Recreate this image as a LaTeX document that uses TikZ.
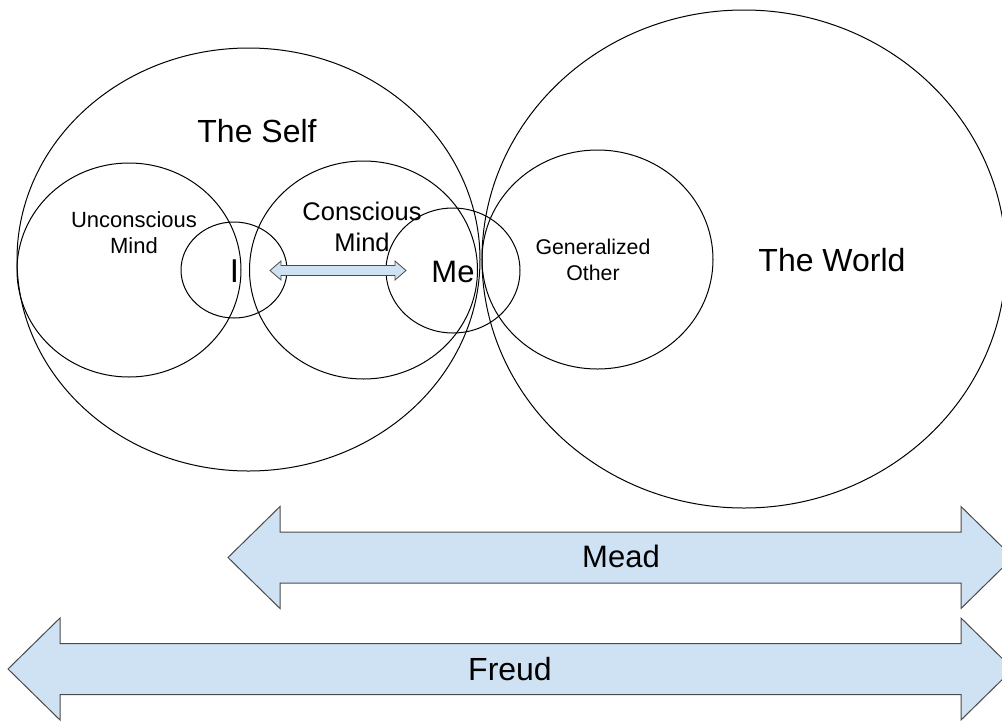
\documentclass[tikz,border=0pt]{standalone}
\usepackage{fontspec}
\setmainfont{Liberation Sans}
\usetikzlibrary{shapes.geometric}
\definecolor{arrowfill}{HTML}{CFE2F3}
\definecolor{arrowline}{HTML}{4A4A4A}
\begin{document}
\begin{tikzpicture}[x=1pt,y=-1pt,
  ring/.style={draw=black, line width=1pt, ellipse, inner sep=0pt, outer sep=0pt},
  fat/.style={draw=arrowline, fill=arrowfill, line width=1pt, line join=miter},
  lbl/.style={inner sep=0pt, anchor=base, align=center},
  big/.style={lbl, font=\fontsize{32}{38}\selectfont}]
\useasboundingbox (0,0) rectangle (1002,721);
% ellipses
\node[ring, minimum width=463pt, minimum height=423pt] (self) at (248.5,259.5) {};
\node[ring, minimum width=524pt, minimum height=498pt] (world) at (744,259) {};
\node[ring, minimum width=224pt, minimum height=214pt] (uncon) at (129,270) {};
\node[ring, minimum width=228pt, minimum height=218pt] (con) at (363.5,270) {};
\node[ring, minimum width=106pt, minimum height=96pt] (i) at (234,270) {};
\node[ring, minimum width=134pt, minimum height=125pt] (me) at (453,270.5) {};
\node[ring, minimum width=231pt, minimum height=219pt] (gen) at (597.5,259.5) {};
% labels (multi-line: coordinate is baseline of last line)
\node[big] (selfl) at (257,142) {The Self};
\node[big] (worldl) at (832,271) {The World};
\node[lbl, font=\fontsize{22}{26}\selectfont] (uncl) at (134,253) {Unconscious\\Mind};
\node[lbl, font=\fontsize{25.5}{31}\selectfont] (conl) at (362,251) {Conscious\\Mind};
\node[lbl, font=\fontsize{21.3}{26}\selectfont] (genl) at (593,280) {Generalized\\Other};
\node[lbl, font=\fontsize{33}{38}\selectfont] (il) at (234.5,282) {I};
\node[lbl, font=\fontsize{31}{36}\selectfont] (mel) at (453,282) {Me};
% small double arrow between I and Me
\draw[fat, line width=0.8pt] (270,270.5) -- (281,261) -- (281,265.5) -- (395,265.5) -- (395,261)
  -- (406,270.5) -- (395,280) -- (395,275.5) -- (281,275.5) -- (281,280) -- cycle;
% Mead arrow
\draw[fat] (228,557.5) -- (280,506.5) -- (280,532) -- (961,532) -- (961,506.5) -- (1013,557.5)
  -- (961,608.5) -- (961,583) -- (280,583) -- (280,608.5) -- cycle;
\node[lbl, font=\fontsize{31}{36}\selectfont] (mead) at (621,567) {Mead};
% Freud arrow
\draw[fat] (8,669) -- (60,618) -- (60,643.5) -- (961,643.5) -- (961,618) -- (1013,669)
  -- (961,720) -- (961,694.5) -- (60,694.5) -- (60,720) -- cycle;
\node[lbl, font=\fontsize{32}{38}\selectfont] (freud) at (510,680) {Freud};
\end{tikzpicture}
\end{document}
